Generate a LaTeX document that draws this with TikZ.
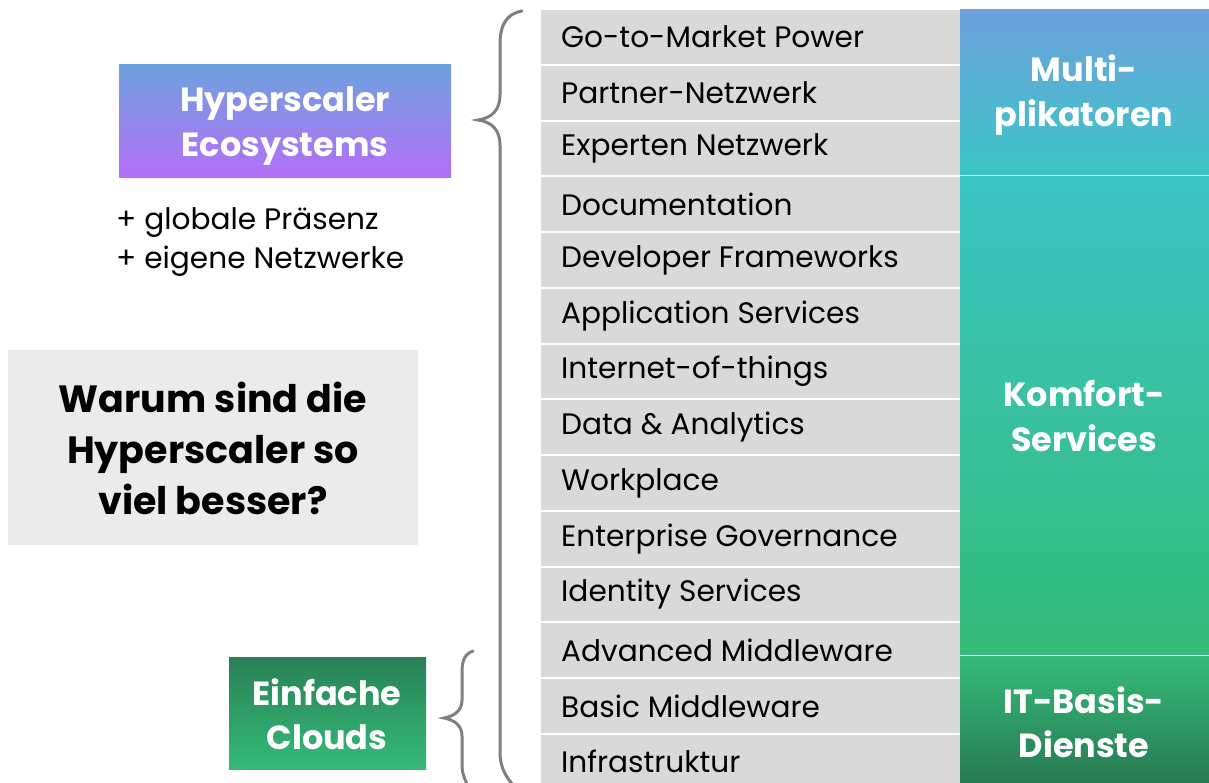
\documentclass[tikz,border=0pt]{standalone}
\usepackage{fontspec}
\setmainfont{Poppins}
\begin{document}
\begin{tikzpicture}[x=1pt,y=-1pt,
  rowbox/.style={fill=rowgray,draw=none,minimum width=419pt,minimum height=53.7pt,anchor=north west,inner sep=0pt},
  rowtext/.style={anchor=west,font=\fontsize{29.6}{33}\selectfont,text=black,inner sep=0pt},
  headtext/.style={font=\bfseries\fontsize{33.5}{44.5}\selectfont,text=white,align=center,inner sep=0pt},
  bracestyle/.style={draw=braceg,line width=3pt,line cap=round}]
\definecolor{rowgray}{HTML}{D9D9D9}
\definecolor{qgray}{HTML}{EBEBEB}
\definecolor{braceg}{HTML}{808080}
\definecolor{hblue}{HTML}{6DA2DE}
\definecolor{hpurple}{HTML}{B46FF8}
\definecolor{teal}{HTML}{3BC5C5}
\definecolor{mgreen}{HTML}{34BB78}
\definecolor{dgreen}{HTML}{277A52}
\useasboundingbox (0,0) rectangle (1209,783);
\clip (0,0) rectangle (1209,783);
% rows
\foreach \t [count=\i from 0] in {Go-to-Market Power,Partner-Netzwerk,Experten Netzwerk,Documentation,Developer Frameworks,Application Services,Internet-of-things,Data \& Analytics,Workplace,Enterprise Governance,Identity Services,Advanced Middleware,Basic Middleware,Infrastruktur}{
  \node[rowbox] (row\i) at (541,{10+\i*55.75}) {};
  \node[rowtext] (rowt\i) at (561,{10+\i*55.75+27}) {\t};
}
% right column
\shade[top color=hblue,bottom color=teal] (960,10) rectangle (1209,175);
\node[headtext] (multi) at (1084,95) {Multi-\\plikatoren};
\shade[top color=teal,bottom color=mgreen] (960,177) rectangle (1209,654);
\node[headtext] (komfort) at (1084,416) {Komfort-\\Services};
\shade[top color=mgreen,bottom color=dgreen] (960,656) rectangle (1209,783);
\node[headtext] (basis) at (1084,722) {IT-Basis-\\Dienste};
% left boxes
\shade[top color=hblue,bottom color=hpurple] (119,65) rectangle (451,178);
\node[headtext] (hyper) at (285,126) {Hyperscaler\\Ecosystems};
\node[anchor=north west,align=left,inner sep=0pt,font=\fontsize{29.6}{39}\selectfont] (plus) at (116,207) {+ globale Präsenz\\+ eigene Netzwerke};
\fill[qgray] (8,350) rectangle (418,545);
\node[font=\bfseries\fontsize{38}{51}\selectfont,align=center,inner sep=0pt] (question) at (213,448) {Warum sind die\\Hyperscaler so\\viel besser?};
\shade[top color=dgreen!90!mgreen,bottom color=mgreen] (229,657) rectangle (426,769);
\node[headtext] (clouds) at (327,714) {Einfache\\Clouds};
% braces
\draw[bracestyle] (522,11) .. controls (506,14) and (500,25) .. (500,45) -- (500,95) .. controls (500,110) and (492,118) .. (478,120) .. controls (492,122) and (500,130) .. (500,145) -- (500,752) .. controls (500,770) and (508,780) .. (518,790);
\draw[bracestyle] (473,651) .. controls (465,654) and (462,660) .. (462,672) -- (462,700) .. controls (462,710) and (455,716) .. (444,718) .. controls (455,720) and (462,726) .. (462,736) -- (462,765) .. controls (462,775) and (466,782) .. (470,790);
\end{tikzpicture}
\end{document}
